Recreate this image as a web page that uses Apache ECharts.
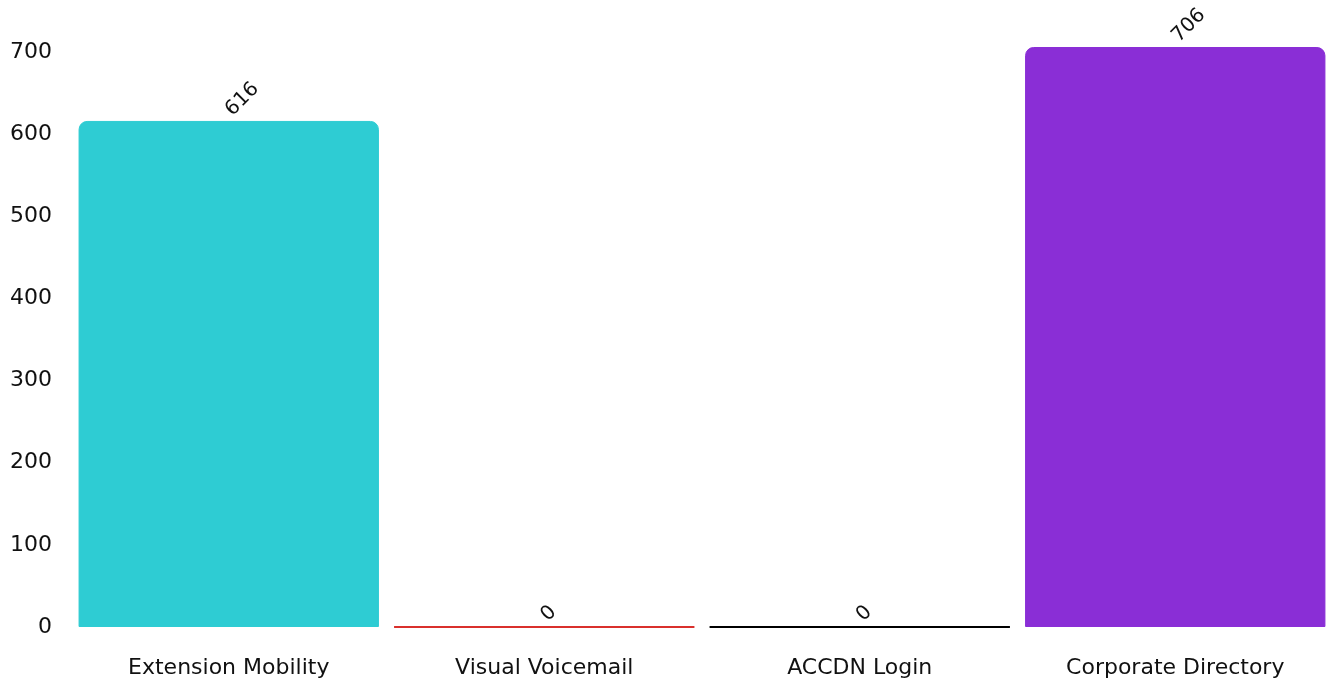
<!DOCTYPE html>
<html><head><meta charset="utf-8">
<script src="https://cdn.jsdelivr.net/npm/echarts@6/dist/echarts.min.js"></script>
<style>html,body{margin:0;padding:0;background:#fff;overflow:hidden}#c{width:1334px;height:685px}</style>
</head><body><div id="c"></div>
<script>
const categories = ["Extension Mobility", "Visual Voicemail", "ACCDN Login", "Corporate Directory"];
const values = [616, 0, 0, 706];
const colors = ["#2ECCD3", "#D9302C", "#000000", "#8A2ED6"];
const yTicks = [0, 100, 200, 300, 400, 500, 600, 700];

const chart = echarts.init(document.getElementById('c'));
chart.setOption({
  animation: false,
  grid: { left: 71, width: 1262, top: 47, bottom: 58, containLabel: false },
  xAxis: {
    type: 'category', data: categories,
    axisLine: { show: false }, axisTick: { show: false },
    axisLabel: { color: '#111', fontSize: 22, fontFamily: 'DejaVu Sans', margin: 30 }
  },
  yAxis: {
    type: 'value', min: 0, max: 'dataMax', interval: 100,
    splitLine: { show: false }, axisLine: { show: false }, axisTick: { show: false },
    axisLabel: { color: '#111', fontSize: 22, fontFamily: 'DejaVu Sans', margin: 19,
      formatter: v => (yTicks.includes(v) ? String(v) : '') }
  },
  series: [{
    type: 'bar', barCategoryGap: '4.8%',
    data: values.map((v, i) => ({ value: v, itemStyle: { color: colors[i], borderColor: colors[i], borderWidth: v === 0 ? 2 : 1, borderRadius: [8, 8, 0, 0] } })),
    label: { show: true, position: 'top', rotate: 45, align: 'left', verticalAlign: 'middle',
      distance: 8, color: '#111', fontSize: 20, fontFamily: 'DejaVu Sans' }
  }]
});
</script></body></html>
